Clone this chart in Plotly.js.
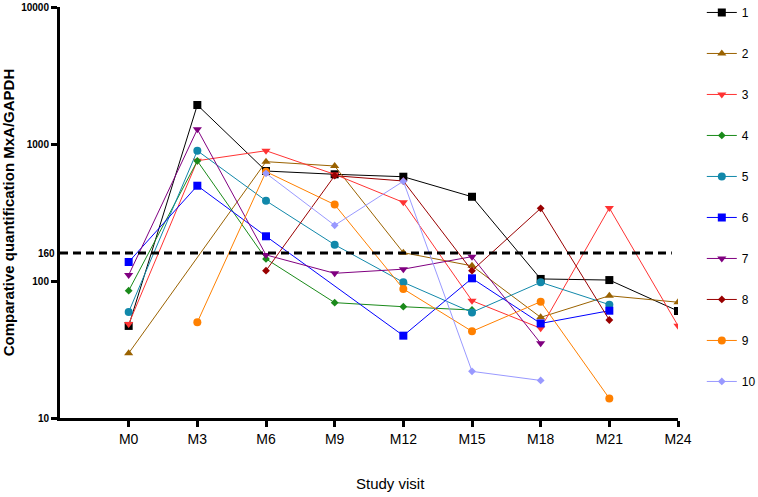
<!DOCTYPE html>
<html>
<head>
<meta charset="utf-8">
<script src="https://cdn.plot.ly/plotly-3.0.1.min.js"></script>
<style>
  body { margin: 0; background: #fff; }
  #chart { width: 758px; height: 497px; }
</style>
</head>
<body>
<div id="chart"></div>
<script>
// study visits
var visits = ['M0', 'M3', 'M6', 'M9', 'M12', 'M15', 'M18', 'M21', 'M24'];
var threshold = 160;

// MxA/GAPDH per patient (null = no sample)
var p1  = [47, 1926, 635, 601, 577, 412, 103.5, 101.6, 60.4];
var p2  = [29.7, null, 743, 691, 161, 129, 54.3, 78, 70];
var p3  = [48.5, 755, 893, 600, 375, 71.8, 45.2, 341, 47.2];
var p4  = [85, 752, 145, 69.5, 64.9, 61.4, null, null, null];
var p5  = [59.4, 893, 385, 184, 97.8, 59, 97.8, 67.2, null];
var p6  = [137.6, 496, 212, null, 39.9, 104.6, 49, 60.7, null];
var p7  = [110.6, 1280, 155, 113.8, 122, 150.6, 35.1, null, null];
var p8  = [null, null, 119, 587, 537, 119, 339, 51.9, null];
var p9  = [null, 50, 628, 361, 87.5, 42.9, 70.6, 13.9, null];
var p10 = [null, null, 611, 255, 535, 21.9, 18.8, null, null];

var names = ['1', '2', '3', '4', '5', '6', '7', '8', '9', '10'];
var series = [p1, p2, p3, p4, p5, p6, p7, p8, p9, p10];
var colors = ['#000000', '#9a6200', '#ff3333', '#1a8a1a', '#1188aa',
              '#0000ff', '#800080', '#990000', '#ff8000', '#9999ff'];
var symbols = ['square', 'triangle-up', 'triangle-down', 'diamond', 'circle',
               'square', 'triangle-down', 'diamond', 'circle', 'diamond'];
var sizes = [8, 8, 8, 6, 8, 8, 8, 6, 8, 6];

var xIdx = visits.map(function(v, i) { return i; });

var data = series.map(function(s, i) {
    return {
        x: xIdx,
        y: s,
        name: names[i],
        legendgroup: 'g' + i,
        type: 'scatter',
        mode: 'lines+markers',
        connectgaps: true,
        line: {color: colors[i], width: 1},
        marker: {color: colors[i], symbol: symbols[i], size: sizes[i]},
        hoverinfo: 'none'
    };
});

var layout = {
    width: 758,
    height: 497,
    margin: {t: 7, b: 79, l: 60, r: 80, autoexpand: false},
    paper_bgcolor: '#fff',
    plot_bgcolor: '#fff',
    font: {family: 'Liberation Sans, Arial, sans-serif', color: '#000'},
    xaxis: {
        range: [-1, 8],
        tickvals: xIdx,
        ticktext: visits,
        showgrid: false,
        zeroline: false,
        showline: true,
        linecolor: '#000',
        linewidth: 3,
        ticks: 'outside',
        ticklen: 6,
        tickwidth: 3,
        tickcolor: '#000',
        tickfont: {size: 14}
    },
    yaxis: {
        type: 'log',
        range: [1, 4],
        tickvals: [10, 100, 1000, 10000],
        ticktext: ['10', '100', '1000', '10000'],
        showgrid: false,
        zeroline: false,
        showline: true,
        linecolor: '#000',
        linewidth: 3,
        ticks: 'outside',
        ticklen: 6,
        tickwidth: 3,
        tickcolor: '#000',
        tickfont: {size: 10, weight: 'bold'},
        title: {text: 'Comparative quantification MxA/GAPDH',
                font: {size: 15, weight: 'bold'}, standoff: 6}
    },
    shapes: [{
        type: 'line',
        xref: 'paper', yref: 'y',
        x0: 0, x1: 0.99,
        y0: threshold, y1: threshold,
        line: {color: '#000', width: 3, dash: '8px,5px'}
    }],
    annotations: [{
        xref: 'paper', yref: 'y',
        x: 0, y: Math.log10(threshold),
        xanchor: 'right', yanchor: 'middle',
        xshift: -3,
        text: String(threshold),
        showarrow: false,
        font: {size: 10, weight: 'bold'}
    }, {
        // x axis title, sits a bit right of centre in the original
        xref: 'paper', yref: 'paper',
        x: 0.534, y: 0, yshift: -65,
        xanchor: 'center', yanchor: 'middle',
        text: 'Study visit',
        showarrow: false,
        font: {size: 15}
    }],
    showlegend: true,
    legend: {
        x: 1.134, y: 1.022,
        xanchor: 'right', yanchor: 'top',
        font: {size: 12},
        tracegroupgap: 22,
        itemwidth: 30,
        maxheight: 490,
        bgcolor: 'rgba(0,0,0,0)'
    }
};

Plotly.newPlot('chart', data, layout, {displayModeBar: false, staticPlot: true});
</script>
</body>
</html>
